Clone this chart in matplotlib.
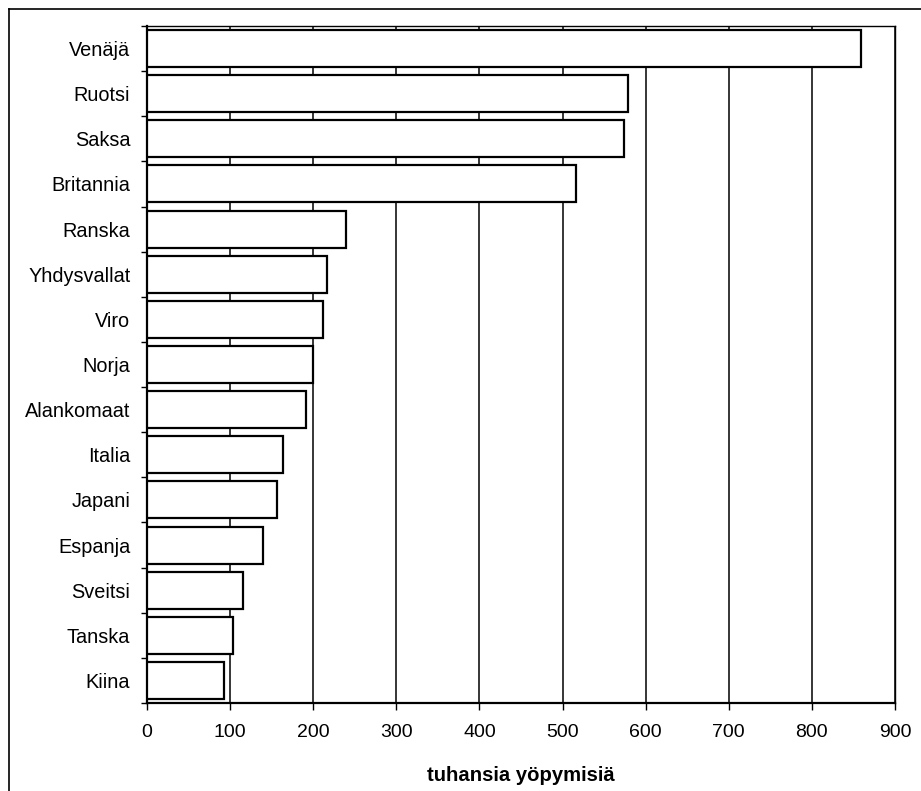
import matplotlib
matplotlib.use("Agg")
import matplotlib.pyplot as plt
import numpy as np
from matplotlib.lines import Line2D

plt.rcParams['font.family'] = ['Liberation Sans', 'DejaVu Sans']

countries = ["Venäjä", "Ruotsi", "Saksa", "Britannia", "Ranska", "Yhdysvallat",
             "Viro", "Norja", "Alankomaat", "Italia", "Japani", "Espanja",
             "Sveitsi", "Tanska", "Kiina"]
values = [859, 579, 574, 516, 240, 216, 212, 200, 191, 164, 156, 140, 116, 103, 93]
xticks = [0, 100, 200, 300, 400, 500, 600, 700, 800, 900]
xlabel = "tuhansia yöpymisiä"

W, H = 921, 791
fig = plt.figure(figsize=(W / 100, H / 100), dpi=100)
ax = fig.add_axes([147 / W, 1 - 703 / H, (895 - 147) / W, (703 - 26) / H])

n = len(countries)
y = np.arange(n)
ax.barh(y, values, height=0.82, color="white", edgecolor="black", linewidth=1.6, zorder=3)
ax.set_ylim(n - 0.5, -0.5)
ax.set_xlim(0, 900)

ax.set_yticks(y)
ax.set_yticklabels(countries, fontsize=14.3)
ax.set_yticks(np.arange(-0.5, n, 1), minor=True)
ax.tick_params(axis="y", which="major", length=0, pad=12)
ax.tick_params(axis="y", which="minor", length=4, width=1, direction="out")

ax.set_xticks(xticks)
ax.set_xticklabels([str(v) for v in xticks], fontsize=14)
ax.tick_params(axis="x", length=5, width=1, direction="out", pad=10)

ax.xaxis.grid(True, color="black", linewidth=1.1, zorder=0)
ax.set_axisbelow(True)

for s in ax.spines.values():
    s.set_linewidth(1.0)
    s.set_color("black")
ax.spines["bottom"].set_linewidth(1.6)
ax.spines["left"].set_linewidth(1.6)

ax.set_xlabel(xlabel, fontsize=14.6, fontweight="bold", labelpad=18)

# outer frame (top and left visible)
fig.add_artist(Line2D([9 / W, 9 / W], [0, 1 - 9 / H], transform=fig.transFigure, color="black", linewidth=1.2))
fig.add_artist(Line2D([9 / W, 1], [1 - 9 / H, 1 - 9 / H], transform=fig.transFigure, color="black", linewidth=1.2))

fig.savefig("out.png", dpi=100, facecolor="white")
